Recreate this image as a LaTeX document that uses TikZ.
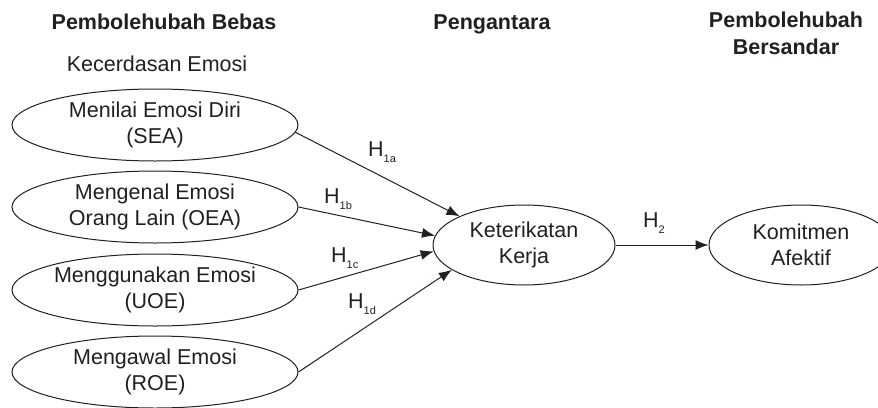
\documentclass[tikz,border=0pt]{standalone}
\usepackage{fontspec}
\setmainfont{Liberation Sans}
\usetikzlibrary{arrows.meta,positioning,shapes.geometric}
\definecolor{ink}{HTML}{231F20}
\newcommand{\hsub}[1]{\raisebox{-6.5pt}{\fontsize{11}{11}\selectfont #1}}

\begin{document}
\begin{tikzpicture}[
  x=1pt, y=-1pt,
  every node/.style={text=ink, font=\fontsize{21.5}{26}\selectfont},
  hdr/.style={align=center, inner sep=0pt, font=\fontsize{21.5}{27}\selectfont\bfseries},
  dim/.style={draw=ink, ellipse, line width=1pt, align=center, inner sep=0pt, minimum width=286pt, minimum height=72pt},
  var/.style={draw=ink, ellipse, line width=1pt, align=center, inner sep=0pt, minimum width=182pt, minimum height=80pt},
  hlab/.style={anchor=base west, inner sep=0pt},
  arr/.style={-{Latex[length=13pt,width=10pt]}, ink, line width=1pt}
]
\useasboundingbox (0,0) rectangle (878,407);

% headings
\node[hdr, anchor=base] (hbebas) at (164,29) {Pembolehubah Bebas};
\node[anchor=base, inner sep=0pt] (hkecer) at (157,71) {Kecerdasan Emosi};
\node[hdr, anchor=base] (hantara) at (492,29) {Pengantara};
\node[hdr, anchor=north] (hsandar) at (786,12) {Pembolehubah\\Bersandar};

% dimensions of emotional intelligence
\node[dim] (sea) at (155,125) {Menilai Emosi Diri\\(SEA)};
\node[dim] (oea) at (155,207) {Mengenal Emosi\\Orang Lain (OEA)};
\node[dim] (uoe) at (155,290) {Menggunakan Emosi\\(UOE)};
\node[dim] (roe) at (155,372) {Mengawal Emosi\\(ROE)};

\node[var] (kk) at (524,245) {Keterikatan\\Kerja};
\node[var, minimum width=184pt] (ka) at (801,245) {Komitmen\\Afektif};

\draw[arr] (sea.-3) -- (kk.156);
\draw[arr] (oea.east) -- (kk.174);
\draw[arr] (uoe.east) -- (kk.184);
\draw[arr] (roe.east) -- (kk.199);
\draw[arr] (kk.east) -- (ka.west);

\node[hlab] (h1a) at (368,156) {H\hsub{1a}};
\node[hlab] (h1b) at (324,203) {H\hsub{1b}};
\node[hlab] (h1c) at (331,262) {H\hsub{1c}};
\node[hlab] (h1d) at (348,308) {H\hsub{1d}};
\node[hlab] (h2) at (643,227) {H\hsub{2}};
\end{tikzpicture}
\end{document}
